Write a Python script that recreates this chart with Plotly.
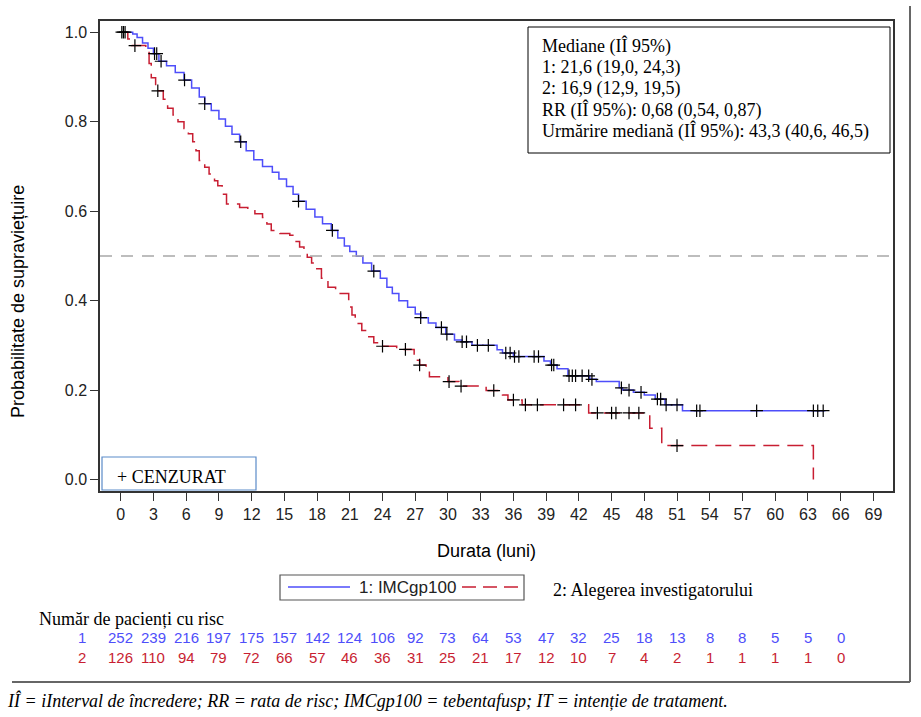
import plotly.graph_objects as go

# ---------------- data ----------------
blue_t = [0, 1.1, 1.5, 2.0, 2.5, 3.0, 3.5, 4.2, 5.0, 5.8, 6.5, 7.2, 7.7, 8.3, 9.0, 9.6,
          10.2, 10.9, 11.5, 12.2, 13.0, 13.9, 14.5, 15.2, 15.8, 16.3, 17.0, 17.8, 18.5,
          19.3, 19.9, 20.5, 21.0, 21.6, 22.2, 23.0, 23.8, 24.4, 24.9, 25.5, 26.3, 27.0,
          27.5, 28.2, 28.9, 29.8, 30.6, 31.3, 32.2, 34.5, 35.0, 36.0, 38.8, 39.4, 40.0,
          41.0, 43.0, 43.6, 45.7, 46.0, 47.0, 48.0, 49.0, 49.9, 51.5, 64.6]
blue_s = [1.0, 0.996, 0.988, 0.976, 0.964, 0.952, 0.935, 0.925, 0.910, 0.893, 0.875, 0.855,
          0.840, 0.825, 0.806, 0.790, 0.772, 0.755, 0.735, 0.715, 0.700, 0.687, 0.672,
          0.655, 0.638, 0.622, 0.604, 0.587, 0.572, 0.557, 0.540, 0.522, 0.510, 0.499,
          0.484, 0.466, 0.450, 0.430, 0.416, 0.400, 0.385, 0.370, 0.362, 0.350, 0.340,
          0.325, 0.312, 0.308, 0.300, 0.290, 0.283, 0.275, 0.265, 0.256, 0.248, 0.232,
          0.224, 0.219, 0.205, 0.200, 0.195, 0.189, 0.180, 0.167, 0.154, 0.154]
blue_cens = [0.1, 0.25, 0.4, 3.1, 3.3, 3.7, 5.85, 7.7, 11.0, 16.3, 19.4, 23.2, 27.5, 29.4,
             29.9, 31.3, 31.7, 32.7, 33.7, 35.3, 35.7, 36.1, 36.5, 37.9, 38.3, 39.5, 39.7,
             41.1, 41.4, 41.7, 42.3, 42.9, 43.2, 45.9, 46.6, 47.7, 49.2, 49.5, 50.0, 51.0,
             52.8, 53.1, 58.3, 63.5, 63.9, 64.4]

red_t = [0, 0.65, 1.0, 2.3, 2.6, 2.8, 3.2, 3.4, 3.9, 4.3, 4.8, 5.25, 5.8, 6.2, 6.6, 6.9,
         7.2, 7.7, 8.1, 8.6, 8.9, 9.3, 9.7, 10.9, 11.65, 12.3, 13.0, 13.4, 13.8, 14.6,
         15.5, 15.9, 16.4, 16.8, 17.1, 17.5, 17.9, 18.4, 19.0, 19.7, 20.9, 21.2, 21.5,
         22.1, 22.6, 23.2, 23.7, 25.3, 26.9, 27.2, 27.4, 28.0, 28.3, 30.0, 31.0, 33.5,
         35.0, 35.5, 36.8, 42.9, 48.5, 49.6, 63.5]
red_s = [1.0, 0.985, 0.970, 0.958, 0.930, 0.898, 0.880, 0.869, 0.850, 0.830, 0.815, 0.800,
         0.785, 0.773, 0.755, 0.735, 0.713, 0.698, 0.683, 0.668, 0.657, 0.638, 0.616,
         0.608, 0.601, 0.594, 0.586, 0.571, 0.557, 0.550, 0.546, 0.532, 0.520, 0.505,
         0.497, 0.484, 0.471, 0.450, 0.430, 0.416, 0.386, 0.368, 0.349, 0.333, 0.319,
         0.306, 0.298, 0.291, 0.278, 0.267, 0.256, 0.243, 0.230, 0.219, 0.209, 0.199,
         0.189, 0.178, 0.167, 0.149, 0.115, 0.076, 0.0]
red_cens = [1.3, 3.4, 24.0, 26.1, 27.4, 30.1, 31.2, 34.2, 36.0, 37.1, 38.2, 40.6, 41.7,
            43.7, 45.0, 45.4, 46.6, 47.5, 51.0]

risk_times = list(range(0, 67, 3))
risk_1 = [252, 239, 216, 197, 175, 157, 142, 124, 106, 92, 73, 64, 53, 47, 32, 25, 18, 13,
          8, 8, 5, 5, 0]
risk_2 = [126, 110, 94, 79, 72, 66, 57, 46, 36, 31, 25, 21, 17, 12, 10, 7, 4, 2, 1, 1, 1,
          1, 0]
x_ticks = list(range(0, 70, 3))
y_ticks = [0.0, 0.2, 0.4, 0.6, 0.8, 1.0]

stats_lines = ["Mediane (IÎ 95%)", "1: 21,6 (19,0, 24,3)", "2: 16,9 (12,9, 19,5)",
               "RR (IÎ 95%): 0,68 (0,54, 0,87)",
               "Urmărire mediană (IÎ 95%): 43,3 (40,6, 46,5)"]

BLUE = "rgb(78,78,250)"
RED = "rgb(200,30,50)"
SERIF = "Liberation Serif, Times New Roman, serif"
SANS = "Liberation Sans, Arial, sans-serif"
NARROW = "Liberation Sans Narrow, Arial Narrow, Liberation Sans, Arial, sans-serif"


def surv_at(ts, ss, t):
    v = ss[0]
    for ti, si in zip(ts, ss):
        if ti <= t:
            v = si
        else:
            break
    return v


# ---------------- layout helpers (pixel -> paper) ----------------
W, H = 921, 717
L, R, T, B = 100, 893, 21, 491


def px(x):
    return (x - L) / (R - L)


def py(y):
    return (B - y) / (B - T)


fig = go.Figure()

fig.add_trace(go.Scatter(x=blue_t, y=blue_s, mode="lines", line_shape="hv",
                         line=dict(color=BLUE, width=1.5), showlegend=False,
                         hoverinfo="skip"))
fig.add_trace(go.Scatter(x=red_t, y=red_s, mode="lines", line_shape="hv",
                         line=dict(color=RED, width=1.5, dash="16px,8px"),
                         showlegend=False, hoverinfo="skip"))
fig.add_trace(go.Scatter(x=blue_cens, y=[surv_at(blue_t, blue_s, t) for t in blue_cens],
                         mode="markers", showlegend=False,
                         marker=dict(symbol="cross-thin", size=9,
                                     line=dict(color="black", width=1.2))))
fig.add_trace(go.Scatter(x=red_cens, y=[surv_at(red_t, red_s, t) for t in red_cens],
                         mode="markers", showlegend=False,
                         marker=dict(symbol="cross-thin", size=9,
                                     line=dict(color="black", width=1.2))))

shapes = []
# median reference line
shapes.append(dict(type="line", xref="paper", yref="y", x0=0, x1=1, y0=0.5, y1=0.5,
                   line=dict(color="#a8a8a8", width=1.5, dash="12px,9px")))
# stats box
shapes.append(dict(type="rect", xref="paper", yref="paper", x0=px(528), x1=px(890),
                   y0=py(153), y1=py(27), line=dict(color="black", width=1),
                   fillcolor="white", layer="above"))
# censored legend box
shapes.append(dict(type="rect", xref="paper", yref="paper", x0=px(102), x1=px(256),
                   y0=py(490), y1=py(457), line=dict(color="#5b8bc9", width=1.2),
                   fillcolor="white"))
# bottom legend box
shapes.append(dict(type="rect", xref="paper", yref="paper", x0=px(280), x1=px(524),
                   y0=py(600), y1=py(575), line=dict(color="#555", width=1.2)))
shapes.append(dict(type="line", xref="paper", yref="paper", x0=px(288), x1=px(350),
                   y0=py(587), y1=py(587), line=dict(color=BLUE, width=1.5)))
shapes.append(dict(type="line", xref="paper", yref="paper", x0=px(462), x1=px(522),
                   y0=py(587), y1=py(587), line=dict(color=RED, width=1.5, dash="14px,7px")))
# outer frame (right and bottom)
shapes.append(dict(type="line", xref="paper", yref="paper", x0=px(910), x1=px(910),
                   y0=py(682), y1=py(6), line=dict(color="#666", width=2)))
shapes.append(dict(type="line", xref="paper", yref="paper", x0=px(12), x1=px(910),
                   y0=py(682), y1=py(682), line=dict(color="#666", width=2)))

ann = []
for i, s in enumerate(stats_lines):
    ann.append(dict(xref="paper", yref="paper", x=px(540), y=py(46 + 21.3 * i),
                    text=s, showarrow=False, xanchor="left", yanchor="middle",
                    font=dict(family=SERIF, size=18, color="black")))
ann.append(dict(xref="paper", yref="paper", x=px(115), y=py(477), text="+ CENZURAT",
                showarrow=False, xanchor="left", yanchor="middle",
                font=dict(family=SERIF, size=18, color="black")))
ann.append(dict(xref="paper", yref="paper", x=px(18), y=py(302),
                text="Probabilitate de supraviețuire", textangle=-90, showarrow=False,
                xanchor="center", yanchor="middle",
                font=dict(family=SANS, size=18, color="black")))
ann.append(dict(xref="paper", yref="paper", x=px(486), y=py(551), text="Durata (luni)",
                showarrow=False, xanchor="center", yanchor="middle",
                font=dict(family=SANS, size=18, color="black")))
ann.append(dict(xref="paper", yref="paper", x=px(357), y=py(587), text="1: IMCgp100",
                showarrow=False, xanchor="left", yanchor="middle",
                font=dict(family=SANS, size=17, color="#222")))
ann.append(dict(xref="paper", yref="paper", x=px(551), y=py(590),
                text="2: Alegerea investigatorului", showarrow=False, xanchor="left",
                yanchor="middle", font=dict(family=SERIF, size=18, color="black")))
ann.append(dict(xref="paper", yref="paper", x=px(37), y=py(619),
                text="Număr de pacienți cu risc", showarrow=False, xanchor="left",
                yanchor="middle", font=dict(family=SERIF, size=18, color="black")))
ann.append(dict(xref="paper", yref="paper", x=px(82), y=py(637), text="1",
                showarrow=False, xanchor="center", yanchor="middle",
                font=dict(family=NARROW, size=15, color=BLUE)))
ann.append(dict(xref="paper", yref="paper", x=px(82), y=py(657), text="2",
                showarrow=False, xanchor="center", yanchor="middle",
                font=dict(family=NARROW, size=15, color=RED)))
for t, a, b in zip(risk_times, risk_1, risk_2):
    ann.append(dict(xref="x", yref="paper", x=t, y=py(637), text=str(a),
                    showarrow=False, xanchor="center", yanchor="middle",
                    font=dict(family=NARROW, size=15, color=BLUE)))
    ann.append(dict(xref="x", yref="paper", x=t, y=py(657), text=str(b),
                    showarrow=False, xanchor="center", yanchor="middle",
                    font=dict(family=NARROW, size=15, color=RED)))
ann.append(dict(xref="paper", yref="paper", x=px(5), y=py(700),
                text="<i>IÎ = iInterval de încredere; RR = rata de risc; IMCgp100 = tebentafusp; IT = intenție de tratament.</i>",
                showarrow=False, xanchor="left", yanchor="middle",
                font=dict(family=SERIF, size=18, color="black")))

fig.update_layout(
    width=W, height=H,
    margin=dict(l=L, r=W - R, t=T, b=H - B),
    paper_bgcolor="white", plot_bgcolor="white",
    shapes=shapes, annotations=ann, showlegend=False,
    xaxis=dict(range=[-1.9, 70.8], tickvals=x_ticks, ticks="outside", ticklen=8,
               tickcolor="#333", showline=True, linecolor="#333", linewidth=1.5,
               mirror=True, showgrid=False, zeroline=False,
               tickfont=dict(family=NARROW, size=16, color="#222")),
    yaxis=dict(range=[-0.0255, 1.025], tickvals=y_ticks, tickformat=".1f",
               ticks="outside", ticklen=8, tickcolor="#333", showline=True,
               linecolor="#333", linewidth=1.5, mirror=True, showgrid=False,
               zeroline=False, tickfont=dict(family=SANS, size=16, color="#222")),
)

fig.write_html("out.html")
